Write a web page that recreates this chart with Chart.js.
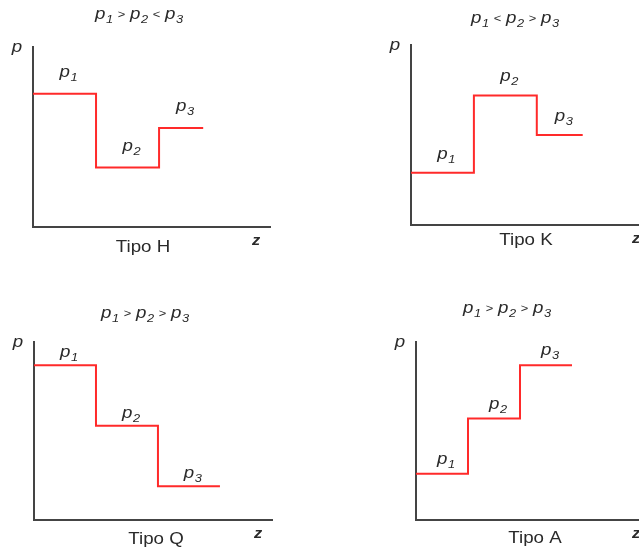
<!DOCTYPE html>
<html>
<head>
<meta charset="utf-8">
<title>Tipos de perfil de presión</title>
<script src="https://cdn.jsdelivr.net/npm/chart.js@4.4.0/dist/chart.umd.min.js"></script>
<style>
  html, body { margin: 0; padding: 0; background: #fff; overflow: hidden; }
  #wrap { position: relative; width: 639px; height: 552px; overflow: hidden; }
  canvas { position: absolute; }
</style>
</head>
<body>
<div id="wrap">
  <canvas id="c0" width="320" height="276" style="left:0px;top:0px"></canvas>
  <canvas id="c1" width="330" height="276" style="left:320px;top:0px"></canvas>
  <canvas id="c2" width="320" height="276" style="left:0px;top:276px"></canvas>
  <canvas id="c3" width="330" height="276" style="left:320px;top:276px"></canvas>
</div>
<script>
// datos: p en unidades arbitrarias (0-10), z en tramos
var tipos = ['Tipo H', 'Tipo K', 'Tipo Q', 'Tipo A'];
var relaciones = [['>', '<'], ['<', '>'], ['>', '>'], ['>', '>']];
var subindices = ['1', '2', '3'];
var tramosZ = [[0, 1, 2, 2.7], [0, 1, 2, 2.73], [0, 1, 2, 3], [0, 1, 2, 3]];
var presionH = [7.4, 3.3, 5.5];
var presionK = [2.9, 7.2, 5.0];
var presionQ = [8.7, 5.3, 1.9];
var presionA = [2.6, 5.7, 8.7];
var presiones = [presionH, presionK, presionQ, presionA];

// solo maquetacion
var paneles = [
  { pad: {left: 33, top: 47, right: 50, bottom: 49}, zMax: 3.76, gap: 20, tit: [106, -31], tipo: [110, 19] },
  { pad: {left: 91, top: 45, right: 0, bottom: 51}, zMax: 3.8, gap: 17, tit: [104, -25], tipo: [115, 14] },
  { pad: {left: 34, top: 66, right: 48, bottom: 32}, zMax: 3.84, gap: 11, tit: [111, -27], tipo: [122, 18] },
  { pad: {left: 96, top: 66, right: 0, bottom: 32}, zMax: 4.5, gap: 13, tit: [91, -32], tipo: [119, 17] }
];

var FAM = '"Liberation Sans", Arial, sans-serif';
var TXT = '#2a2a2a';
var ESTIRA = 1.17;

function pSub(n) {
  return [
    {text: 'p', font: 'italic 16px ' + FAM, dy: 0, gap: 0.5},
    {text: n, font: 'italic 11px ' + FAM, dy: 4, gap: 0}
  ];
}

function dibujaTexto(ctx, partes, cx, cy, base) {
  var total = 0;
  partes.forEach(function (p) {
    ctx.font = p.font;
    p.w = ctx.measureText(p.text).width;
    total += p.w + (p.gap || 0);
  });
  ctx.save();
  ctx.translate(cx - total * ESTIRA / 2, cy + base);
  ctx.scale(ESTIRA, 1);
  ctx.fillStyle = TXT;
  ctx.textBaseline = 'alphabetic';
  ctx.textAlign = 'left';
  var x = 0;
  partes.forEach(function (p) {
    ctx.font = p.font;
    ctx.fillText(p.text, x, p.dy);
    x += p.w + (p.gap || 0);
  });
  ctx.restore();
}

var textos = {
  id: 'textos',
  afterDraw: function (chart) {
    var o = chart.options.plugins.textos;
    var ctx = chart.ctx;
    var a = chart.chartArea;
    var sx = chart.scales.x, sy = chart.scales.y;

    // titulo p1 ? p2 ? p3
    var t = pSub('1');
    t[1].gap = 4;
    t.push({text: o.rel[0], font: '11px ' + FAM, dy: -1, gap: 4});
    t = t.concat(pSub('2'));
    t[t.length - 1].gap = 4;
    t.push({text: o.rel[1], font: '11px ' + FAM, dy: -1, gap: 4});
    t = t.concat(pSub('3'));
    dibujaTexto(ctx, t, a.left + o.tit[0], a.top + o.tit[1], 3);

    // etiquetas de cada tramo
    o.niveles.forEach(function (v, i) {
      var zc = (o.tramos[i] + o.tramos[i + 1]) / 2;
      var px = sx.getPixelForValue(zc) + 4;
      var py = sy.getPixelForValue(v) - o.gap;
      dibujaTexto(ctx, pSub(subindices[i]), px, py, 3);
    });

    // ejes
    dibujaTexto(ctx, [{text: 'p', font: 'italic 16px ' + FAM, dy: 0}], a.left - 16, a.top + 2, 3);
    dibujaTexto(ctx, [{text: 'z', font: 'italic bold 14px ' + FAM, dy: 0}], a.right - 14, a.bottom + 13, 5);
    dibujaTexto(ctx, [{text: o.tipo, font: '16px ' + FAM, dy: 0}], a.left + o.tipoPos[0], a.bottom + o.tipoPos[1], 6);
  }
};

paneles.forEach(function (cfg, k) {
  var z = tramosZ[k], p = presiones[k];
  var puntos = p.map(function (v, i) { return {x: z[i], y: v}; });
  puntos.push({x: z[z.length - 1], y: p[p.length - 1]});

  var ctx = document.getElementById('c' + k).getContext('2d');
  new Chart(ctx, {
    type: 'line',
    data: {
      datasets: [{
        data: puntos,
        stepped: 'before',
        borderColor: '#ff2a2a',
        borderWidth: 2,
        pointRadius: 0,
        fill: false
      }]
    },
    options: {
      responsive: false,
      animation: false,
      events: [],
      layout: { padding: cfg.pad },
      plugins: {
        legend: { display: false },
        tooltip: { enabled: false },
        textos: {
          rel: relaciones[k], tipo: tipos[k], niveles: p, tramos: z,
          gap: cfg.gap, tit: cfg.tit, tipoPos: cfg.tipo
        }
      },
      scales: {
        x: {
          type: 'linear', min: 0, max: cfg.zMax,
          ticks: { display: false },
          grid: { display: false, drawTicks: false },
          border: { display: true, color: '#444', width: 2 }
        },
        y: {
          min: 0, max: 10,
          ticks: { display: false },
          grid: { display: false, drawTicks: false },
          border: { display: true, color: '#444', width: 2 }
        }
      }
    },
    plugins: [textos]
  });
});
</script>
</body>
</html>
